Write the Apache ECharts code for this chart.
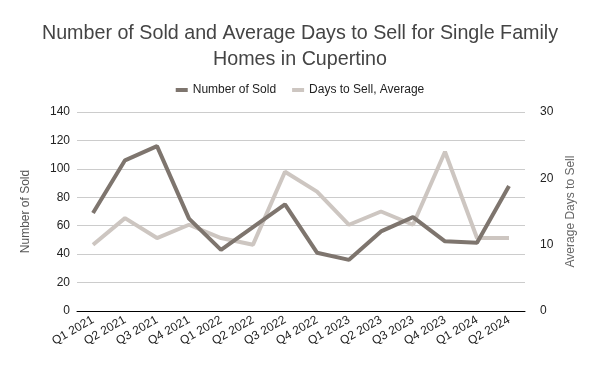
<!DOCTYPE html>
<html>
<head>
<meta charset="utf-8">
<script src="https://cdn.jsdelivr.net/npm/echarts@6/dist/echarts.min.js"></script>
<style>html,body{margin:0;padding:0;background:#fff}#c{width:600px;height:371px}</style>
</head>
<body>
<div id="c"></div>
<script>
const categories = ["Q1 2021","Q2 2021","Q3 2021","Q4 2021","Q1 2022","Q2 2022","Q3 2022","Q4 2022","Q1 2023","Q2 2023","Q3 2023","Q4 2023","Q1 2024","Q2 2024"];
const numberSold = [69,106,116,65,43,59,75,41,36,56,66,49,48,88];
const daysToSell = [10,14,11,13,11,10,21,18,13,15,13,24,11,11];
const leftTicks = {min:0, max:140, interval:20};
const rightTicks = {min:0, max:30, interval:10};

const chart = echarts.init(document.getElementById('c'), null, {renderer:'canvas'});
const font = '"Liberation Sans", Arial, sans-serif';
chart.setOption({
  animation:false,
  backgroundColor:'#fff',
  textStyle:{fontFamily:font},
  title:{
    text:'Number of Sold and Average Days to Sell for Single Family\nHomes in Cupertino',
    left:'center', top:16,
    textStyle:{fontFamily:font, fontSize:19.7, fontWeight:'normal', color:'#444', lineHeight:26}
  },
  legend:{
    top:79, left:'center', itemWidth:12, itemHeight:4, itemGap:16,
    icon:'rect',
    textStyle:{fontFamily:font, fontSize:12, color:'#222'},
    data:['Number of Sold','Days to Sell, Average']
  },
  grid:{left:77, right:75, top:112, bottom:60},
  xAxis:[{
    type:'category', data:categories, boundaryGap:true,
    axisLine:{lineStyle:{color:'#000', width:1}},
    axisTick:{alignWithLabel:true, length:5, lineStyle:{color:'#000'}},
    axisLabel:{rotate:30, fontSize:12, color:'#222', fontFamily:font, margin:8}
  },{
    type:'category', data:categories, boundaryGap:true, position:'bottom',
    axisLine:{show:false},
    axisTick:{alignWithLabel:true, inside:true, length:5, lineStyle:{color:'#000'}},
    axisLabel:{show:false}, splitLine:{show:false}
  }],
  yAxis:[{
    type:'value', min:leftTicks.min, max:leftTicks.max, interval:leftTicks.interval,
    name:'Number of Sold', nameLocation:'middle', nameGap:45, nameRotate:90,
    nameTextStyle:{fontFamily:font, fontSize:12, color:'#555'},
    axisLine:{show:false}, axisTick:{show:false},
    axisLabel:{fontSize:12, color:'#222', fontFamily:font, margin:7},
    splitLine:{lineStyle:{color:'#ccc', width:1}}
  },{
    type:'value', min:rightTicks.min, max:rightTicks.max, interval:rightTicks.interval,
    name:'Average Days to Sell', nameLocation:'middle', nameGap:36, nameRotate:90,
    nameTextStyle:{fontFamily:font, fontSize:12, color:'#666'},
    axisLine:{show:false}, axisTick:{show:false},
    axisLabel:{fontSize:12, color:'#222', fontFamily:font, margin:15},
    splitLine:{show:false}
  }],
  series:[{
    name:'Number of Sold', type:'line', yAxisIndex:0, data:numberSold,
    showSymbol:false, symbol:'none',
    lineStyle:{color:'#7e756e', width:4}, itemStyle:{color:'#7e756e'}, z:3
  },{
    name:'Days to Sell, Average', type:'line', yAxisIndex:1, data:daysToSell,
    showSymbol:false, symbol:'none',
    lineStyle:{color:'#cdc6c1', width:4}, itemStyle:{color:'#cdc6c1'}, z:2
  }]
});
</script>
</body>
</html>
